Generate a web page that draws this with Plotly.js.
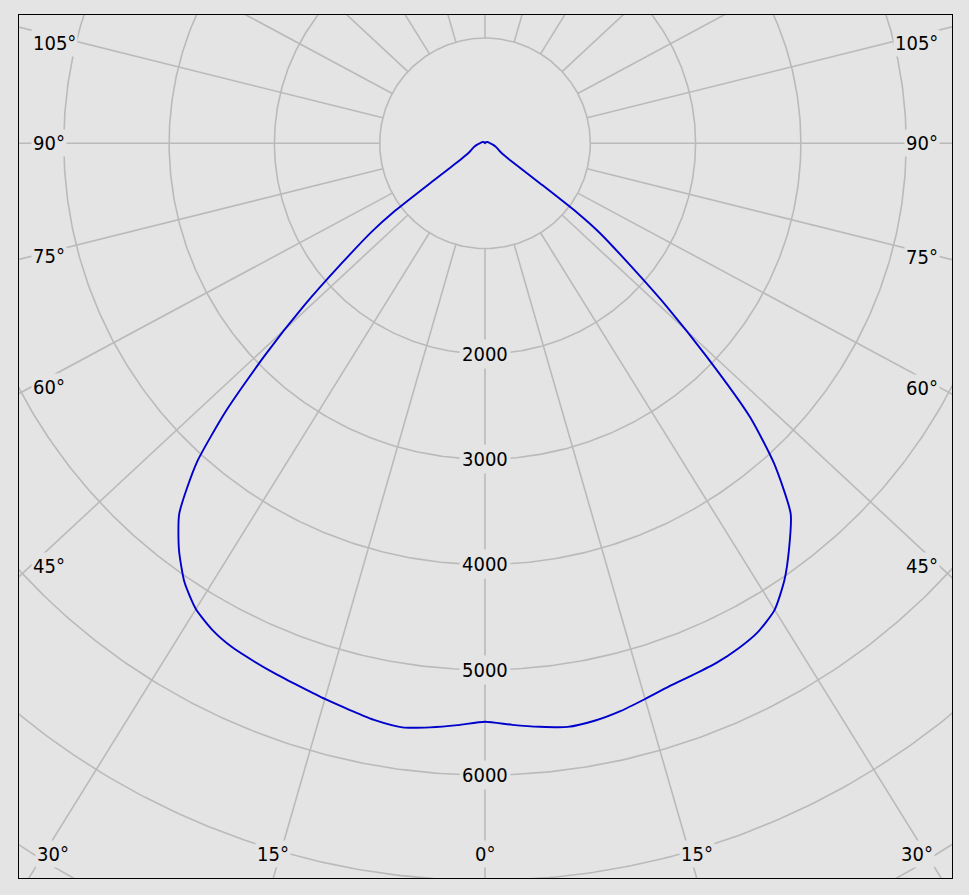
<!DOCTYPE html>
<html>
<head>
<meta charset="utf-8">
<script src="https://cdn.plot.ly/plotly-3.0.1.min.js"></script>
<style>
html,body{margin:0;padding:0;background:#e4e4e4;}
#chart{width:969px;height:895px;}
</style>
</head>
<body>
<div id="chart"></div>
<script>
// Gamma angles (degrees from nadir) and luminous intensities (cd)
const gammaAngles = [0, 2.5, 5, 7.5, 10, 12.5, 15, 17.5, 20, 22.5, 25, 27.5, 30, 32.5, 35, 37.5, 40, 42, 44, 46, 48, 50, 51, 52, 53, 54, 56, 60, 70, 80, 90, 105, 120, 150, 180];
const intensityLeft = [5493, 5532, 5571, 5602, 5579, 5533, 5492, 5451, 5419, 5387, 5355, 5298, 5206, 5051, 4832, 4563, 4090, 3530, 2900, 2315, 1774, 1360, 1090, 607, 400, 300, 215, 160, 112, 75, 50, 35, 25, 10, 0];
const intensityRight = [5493, 5529, 5566, 5598, 5582, 5544, 5492, 5445, 5421, 5402, 5367, 5314, 5215, 5031, 4803, 4562, 4101, 3618, 2930, 2320, 1780, 1380, 1100, 640, 420, 300, 215, 160, 112, 75, 50, 35, 25, 10, 0];

// Grid
const ringValues = [1000, 2000, 3000, 4000, 5000, 6000, 7000, 8000, 9000];
const ringLabelValues = [2000, 3000, 4000, 5000, 6000];
const rayAngles = [0, 15, 30, 45, 60, 75, 90, 105, 120, 135, 150, 165, 180];
const angleLabelValues = [0, 15, 30, 45, 60, 75, 90, 105];

// Geometry of the view (cd per pixel, frame in pixels)
const W = 969, H = 895;
const frame = {l: 19, r: 952, t: 15, b: 878};
const centerPx = {x: 485, y: 143.3};
const PX = 9.497; // cd per pixel
const SQUEEZE = 0.93; // angular grid squeeze of the drawing program

const xmin = (frame.l - centerPx.x) * PX, xmax = (frame.r - centerPx.x) * PX;
const ymax = (centerPx.y - frame.t) * PX, ymin = (centerPx.y - frame.b) * PX;

function dir(g, side) {
  const t = g * Math.PI / 180;
  const a = Math.sin(t), b = SQUEEZE * Math.cos(t);
  const n = Math.hypot(a, b);
  return [side * a / n, -b / n];
}

const BG = '#e4e4e4';
const GRID = '#bababa';
const traces = [];

// rings
const rx = [], ry = [];
ringValues.forEach(v => {
  for (let i = 0; i <= 720; i++) {
    const t = i / 720 * 2 * Math.PI;
    rx.push(v * Math.cos(t)); ry.push(v * Math.sin(t));
  }
  rx.push(null); ry.push(null);
});
traces.push({x: rx, y: ry, type: 'scatter', mode: 'lines', line: {color: GRID, width: 1.6}, hoverinfo: 'skip'});

// rays
const sx = [], sy = [];
rayAngles.forEach(g => {
  const sides = (g === 0 || g === 180) ? [1] : [-1, 1];
  sides.forEach(s => {
    const d = dir(g, s);
    sx.push(ringValues[0] * d[0], 15000 * d[0], null);
    sy.push(ringValues[0] * d[1], 15000 * d[1], null);
  });
});
traces.push({x: sx, y: sy, type: 'scatter', mode: 'lines', line: {color: GRID, width: 1.6}, hoverinfo: 'skip'});

// intensity curve
const cx = [], cy = [];
for (let i = gammaAngles.length - 1; i >= 0; i--) {
  const d = dir(gammaAngles[i], -1);
  cx.push(intensityLeft[i] * d[0]); cy.push(intensityLeft[i] * d[1]);
}
for (let i = 1; i < gammaAngles.length; i++) {
  const d = dir(gammaAngles[i], 1);
  cx.push(intensityRight[i] * d[0]); cy.push(intensityRight[i] * d[1]);
}
traces.push({x: cx, y: cy, type: 'scatter', mode: 'lines',
  line: {color: '#0000cc', width: 1.9, shape: 'spline', smoothing: 0.6}, hoverinfo: 'skip'});

// annotations
const font = {family: 'DejaVu Sans Condensed, DejaVu Sans, sans-serif', size: 20, color: '#000'};
const annotations = [];
ringLabelValues.forEach(v => {
  annotations.push({x: 0, y: -v, xref: 'x', yref: 'y', text: String(v), showarrow: false,
    font: font, bgcolor: BG, borderpad: 2, xanchor: 'center', yanchor: 'middle'});
});
const labYTop = ymax - 28 * PX, labYBot = ymin + 24 * PX;
angleLabelValues.forEach(g => {
  const sides = g === 0 ? [1] : [-1, 1];
  sides.forEach(s => {
    const d = dir(g, s);
    let onBottom = false, xb = 0;
    if (d[1] < 0) {
      xb = ymin * d[0] / d[1];
      if (xb > xmin && xb < xmax) onBottom = true;
    }
    if (onBottom) {
      const xc = Math.max(xmin + 34 * PX, Math.min(xmax - 35 * PX, xb));
      annotations.push({x: xc, y: labYBot, xref: 'x', yref: 'y', text: g + '°', showarrow: false,
        font: font, bgcolor: BG, borderpad: 1, xanchor: 'center', yanchor: 'middle'});
    } else {
      const xe = s < 0 ? xmin + 12 * PX : xmax - 12 * PX;
      let yv = Math.abs(d[0]) > 1e-9 ? xe * d[1] / d[0] : 0;
      yv = Math.max(labYBot, Math.min(labYTop, yv));
      annotations.push({x: xe, y: yv, xref: 'x', yref: 'y', text: g + '°', showarrow: false,
        font: font, bgcolor: BG, borderpad: 1, xanchor: s < 0 ? 'left' : 'right', yanchor: 'middle'});
    }
  });
});

const axisCommon = {showgrid: false, zeroline: false, showticklabels: false, ticks: '',
  showline: true, mirror: true, linecolor: '#000', linewidth: 1, fixedrange: true};

const layout = {
  width: W, height: H,
  margin: {l: frame.l, r: W - frame.r, t: frame.t, b: H - frame.b, pad: 0},
  paper_bgcolor: BG, plot_bgcolor: BG,
  showlegend: false,
  xaxis: Object.assign({range: [xmin, xmax]}, axisCommon),
  yaxis: Object.assign({range: [ymin, ymax]}, axisCommon),
  annotations: annotations
};

Plotly.newPlot('chart', traces, layout, {staticPlot: true, displayModeBar: false});
</script>
</body>
</html>
